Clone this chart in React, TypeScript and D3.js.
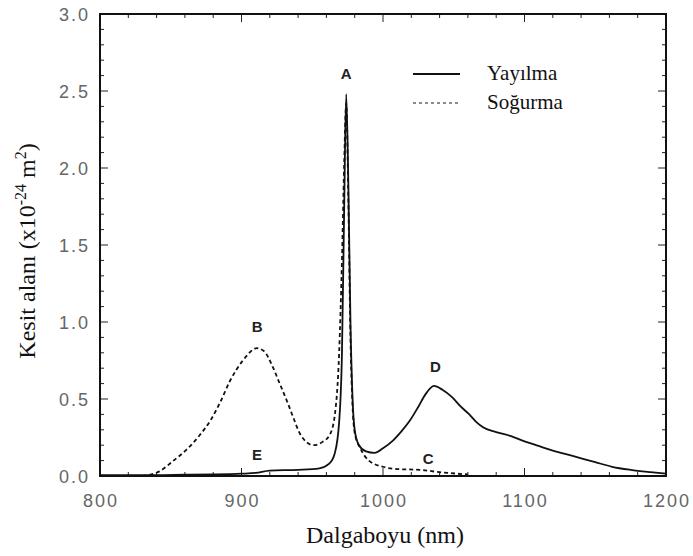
import React from 'react';
import * as d3 from 'd3';

// Yayılma (emission) - solid
const emisNm = [800, 820, 840, 860, 880, 900, 910, 920, 940, 955, 962, 966, 969, 971, 972.5, 974, 975.5, 977, 978.5, 980, 983, 988, 994, 1000, 1007, 1013, 1019, 1025, 1030, 1036, 1042, 1049, 1055, 1061, 1066, 1071, 1080, 1090, 1100, 1110, 1120, 1134, 1150, 1162, 1175, 1189, 1200];
const emisVal = [0.005, 0.005, 0.005, 0.008, 0.01, 0.015, 0.02, 0.035, 0.04, 0.05, 0.08, 0.15, 0.35, 0.8, 1.7, 2.48, 1.9, 1.0, 0.5, 0.3, 0.2, 0.16, 0.15, 0.18, 0.23, 0.29, 0.36, 0.45, 0.53, 0.585, 0.56, 0.51, 0.45, 0.4, 0.35, 0.315, 0.285, 0.26, 0.225, 0.195, 0.165, 0.13, 0.09, 0.06, 0.04, 0.025, 0.015];

// Soğurma (absorption) - dashed
const absNm = [830, 842, 852, 861, 870, 878, 885, 892, 901, 911, 916, 922, 927, 932, 937, 941, 946, 951, 957, 962.5, 966, 969, 971, 972.5, 974, 975.5, 977, 978.5, 980, 984, 990, 1000, 1010, 1026, 1040, 1060];
const absVal = [0, 0.03, 0.1, 0.17, 0.26, 0.36, 0.48, 0.62, 0.75, 0.83, 0.81, 0.71, 0.6, 0.49, 0.37, 0.28, 0.22, 0.2, 0.22, 0.27, 0.4, 0.8, 1.4, 2.0, 2.42, 1.8, 0.9, 0.45, 0.28, 0.18, 0.1, 0.06, 0.045, 0.04, 0.025, 0.01];

const xTicks = [800, 900, 1000, 1100, 1200];
const yTicks = [0, 0.5, 1.0, 1.5, 2.0, 2.5, 3.0];

// peak labels
const peakNames = ['A', 'B', 'C', 'D', 'E'];
const peakNm = [974, 911, 1032, 1037, 911];
const peakVal = [2.58, 0.935, 0.078, 0.675, 0.104];

const legendNames = ['Yayılma', 'Soğurma'];

export default function App() {
  const left = 100, right = 666, top = 14, bottom = 476;
  const x = d3.scaleLinear().domain([800, 1200]).range([left, right]);
  const y = d3.scaleLinear().domain([0, 3]).range([bottom, top]);

  const line = d3.line<[number, number]>()
    .x(d => x(d[0]))
    .y(d => y(d[1]))
    .curve(d3.curveMonotoneX);

  const emis = emisNm.map((n, i) => [n, emisVal[i]] as [number, number]);
  const abs = absNm.map((n, i) => [n, absVal[i]] as [number, number]);

  const xMinor = d3.range(800, 1201, 20);
  const yMinor = d3.range(0, 31, 1).map(v => v / 10);

  const tickColor = '#666';
  const tickFont = 'Arial, "Liberation Sans", sans-serif';
  const serif = '"Liberation Serif", "DejaVu Serif", serif';

  return (
    <svg width={693} height={556} style={{ position: 'absolute', left: 0, top: 0, background: '#fff' }}>
      {/* ticks x (bottom and top) */}
      {xMinor.map(t => {
        const major = t % 100 === 0;
        const len = major ? 8 : 4;
        return (
          <g key={'xt' + t} stroke="#222" strokeWidth={1}>
            <line x1={x(t)} x2={x(t)} y1={bottom} y2={bottom - len} />
            <line x1={x(t)} x2={x(t)} y1={top} y2={top + len} />
          </g>
        );
      })}
      {yMinor.map((t, i) => {
        const major = i % 5 === 0;
        const len = major ? 8 : 4;
        return (
          <g key={'yt' + i} stroke="#222" strokeWidth={1}>
            <line x1={left} x2={left + len} y1={y(t)} y2={y(t)} />
            <line x1={right} x2={right - len} y1={y(t)} y2={y(t)} />
          </g>
        );
      })}

      {/* curves */}
      <path d={line(abs) || ''} fill="none" stroke="#111" strokeWidth={1.8} strokeDasharray="4 3" />
      <path d={line(emis) || ''} fill="none" stroke="#111" strokeWidth={1.8} />

      {/* frame */}
      <rect x={left} y={top} width={right - left} height={bottom - top} fill="none" stroke="#111" strokeWidth={2} />

      {/* tick labels */}
      {xTicks.map(t => (
        <text key={'xl' + t} x={x(t) + 1} y={bottom + 31} textAnchor="middle" fontFamily={tickFont} fontSize={18} letterSpacing={2} fill={tickColor}>
          {t}
        </text>
      ))}
      {yTicks.map(t => (
        <text key={'yl' + t} x={left - 10} y={y(t) + 6.5} textAnchor="end" fontFamily={tickFont} fontSize={18} letterSpacing={2} fill={tickColor}>
          {t.toFixed(1)}
        </text>
      ))}

      {/* peak labels */}
      {peakNames.map((p, i) => (
        <text key={p} x={x(peakNm[i])} y={y(peakVal[i])} textAnchor="middle" fontFamily={tickFont} fontSize={15} fontWeight="bold" fill="#222">
          {p}
        </text>
      ))}

      {/* legend */}
      <line x1={413} x2={460} y1={74} y2={74} stroke="#111" strokeWidth={2} />
      <text x={487} y={80} fontFamily={serif} fontSize={21} fill="#111">{legendNames[0]}</text>
      <line x1={413} x2={460} y1={103} y2={103} stroke="#666" strokeWidth={1.5} strokeDasharray="3 3" />
      <text x={487} y={109} fontFamily={serif} fontSize={21} fill="#111">{legendNames[1]}</text>

      {/* axis titles */}
      <text x={385} y={543} textAnchor="middle" fontFamily={serif} fontSize={24} fill="#111">Dalgaboyu (nm)</text>
      <text transform={`translate(35, 251) rotate(-90)`} textAnchor="middle" fontFamily={serif} fontSize={24} fill="#111">
        Kesit alanı (x10
        <tspan dy={-9} fontSize={16}>-24</tspan>
        <tspan dy={9}> m</tspan>
        <tspan dy={-9} fontSize={16}>2</tspan>
        <tspan dy={9}>)</tspan>
      </text>
    </svg>
  );
}
